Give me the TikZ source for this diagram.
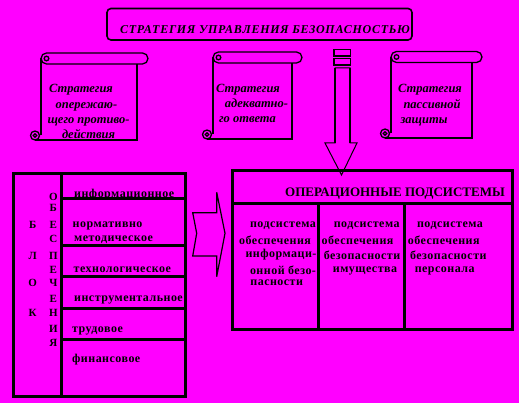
\documentclass[tikz,border=0pt]{standalone}
\usepackage{fontspec}
\setmainfont{Liberation Serif}
\definecolor{bg}{RGB}{255,0,255}
\newcommand\scrollshape[5]{% L, R, Rr, T0, B
  \draw[scrl] (#1+5.5,#4) -- (#3-5.5,#4) arc[start angle=-90,end angle=90,radius=5.5] -- (#1+5.5,#4+11) arc[start angle=90,end angle=270,radius=5.5] -- cycle;
  \draw[scrl] (#1+5.5,#4+5.5) circle[radius=2.3];
  \draw[scrl] (#2,#4+11) -- (#2,#5) -- (#1-6,#5);
  \draw[scrl] (#1,#4+5.5) -- (#1,#5-4.5);
  \draw[scrl] (#1-6,#5-4.5) circle[radius=4.5];
  \draw[scrl] (#1-6,#5-4.5) circle[radius=1.8];
}
\begin{document}
\begin{tikzpicture}[x=1pt,y=-1pt,
  heavy/.style={line width=3pt},
  scrl/.style={line width=1.3pt},
  slim/.style={line width=1pt},
  txt/.style={inner sep=0pt,font=\fontsize{12}{14}\selectfont\bfseries\addfontfeature{LetterSpace=4}},
  hdr/.style={inner sep=0pt,font=\fontsize{13}{15}\selectfont\bfseries},
  ital/.style={inner sep=0pt,font=\fontsize{12.5}{15}\selectfont\bfseries\itshape},
  lett/.style={inner sep=0pt,font=\fontsize{11}{13}\selectfont\bfseries},
]
\useasboundingbox[fill=bg] (0,0) rectangle (519,403);

% title
\draw[line width=1.6pt,rounded corners=4pt] (107,8.5) rectangle (412,40);
\node[inner sep=0pt,anchor=mid west,font=\fontsize{12}{14}\selectfont\bfseries\itshape\addfontfeature{LetterSpace=6}] (title) at (120,31) {СТРАТЕГИЯ УПРАВЛЕНИЯ БЕЗОПАСНОСТЬЮ};

% scrolls
\scrollshape{41}{137}{148}{53}{140}
\scrollshape{213}{292}{302}{52}{139}
\scrollshape{391}{472}{482}{51.5}{138}

\node[ital,anchor=mid] (s1a) at (81,90.7) {Стратегия};
\node[ital,anchor=mid] (s1b) at (86.5,106.7) {опережаю-};
\node[ital,anchor=mid] (s1c) at (88.5,121.7) {щего противо-};
\node[ital,anchor=mid] (s1d) at (88.5,136.7) {действия};

\node[ital,anchor=mid] (s2a) at (248,90.7) {Стратегия};
\node[ital,anchor=mid] (s2b) at (256.5,105) {адекватно-};
\node[ital,anchor=mid] (s2c) at (247.5,120) {го ответа};

\node[ital,anchor=mid] (s3a) at (430,90.7) {Стратегия};
\node[ital,anchor=mid] (s3b) at (432,106.7) {пассивной};
\node[ital,anchor=mid] (s3c) at (424,121.7) {защиты};

% down arrow
\draw[line width=1.5pt] (334,49.5) rectangle (350.5,56);
\draw[line width=1.5pt] (334,58.5) rectangle (350.5,65);
\draw[slim] (335,68) -- (350,68) -- (350,143) -- (357,143) -- (341.5,175) -- (325,143) -- (335,143) -- cycle;
\draw[line width=2pt] (335,68) -- (335,143);
\draw[line width=2pt] (350,68) -- (350,143);

% left block
\draw[heavy] (13.5,173.5) rectangle (185,396);
\draw[heavy] (61,173.5) -- (61,396);
\foreach \yy in {198.5,245.5,276.5,308,339}
  \draw[heavy] (61,\yy) -- (185,\yy);

\node[txt,anchor=mid west] (l1) at (74,195) {информационное};
\node[txt,anchor=mid west] (l2) at (72.5,225) {нормативно};
\node[txt,anchor=mid west] (l3) at (74,239) {методическое};
\node[txt,anchor=mid west] (l4) at (73.5,270) {технологическое};
\node[txt,anchor=mid west] (l5) at (74,299.5) {инструментальное};
\node[txt,anchor=mid west] (l6) at (72,330) {трудовое};
\node[txt,anchor=mid west] (l7) at (72,360) {финансовое};

\foreach \ch/\yy [count=\i] in {О/196.7,Б/208.3,Е/225,С/239,П/255.7,Е/270,Ч/283,Е/299,Н/313,И/329,Я/343}
  \node[lett] (ob\i) at (53.3,\yy) {\ch};
\foreach \ch/\yy [count=\i] in {Б/225,Л/255.7,О/283,К/313}
  \node[lett] (bl\i) at (32.7,\yy) {\ch};

% chevron
\draw[line width=1.2pt] (216.7,192.3) -- (216.7,212.7) -- (192.7,212.7) -- (196.7,233.3) -- (192.7,256) -- (216.7,256) -- (216.7,276.7) -- (225,233.3) -- cycle;

% right block
\draw[heavy] (232.5,171) rectangle (512,329);
\draw[heavy] (232.5,203.5) -- (512,203.5);
\draw[heavy] (318.5,203.5) -- (318.5,329);
\draw[heavy] (404,203.5) -- (404,329);
\node[hdr,anchor=mid east] (hdr) at (505,194.3) {ОПЕРАЦИОННЫЕ ПОДСИСТЕМЫ};

\node[txt] (a1) at (283,225.7) {подсистема};
\node[txt] (a2) at (275,240.7) {обеспечения};
\node[txt] (a3) at (281,255) {информаци-};
\node[txt] (a4) at (283,270.7) {онной безо-};
\node[txt] (a5) at (276.7,283) {пасности};

\node[txt] (b1) at (366.7,225.7) {подсистема};
\node[txt] (b2) at (357.5,240.7) {обеспечения};
\node[txt] (b3) at (362,255) {безопасности};
\node[txt] (b4) at (365,270.7) {имущества};

\node[txt] (c1) at (450,225.7) {подсистема};
\node[txt] (c2) at (443.7,240.7) {обеспечения};
\node[txt] (c3) at (448.3,255) {безопасности};
\node[txt] (c4) at (444.7,270.7) {персонала};
\end{tikzpicture}
\end{document}
